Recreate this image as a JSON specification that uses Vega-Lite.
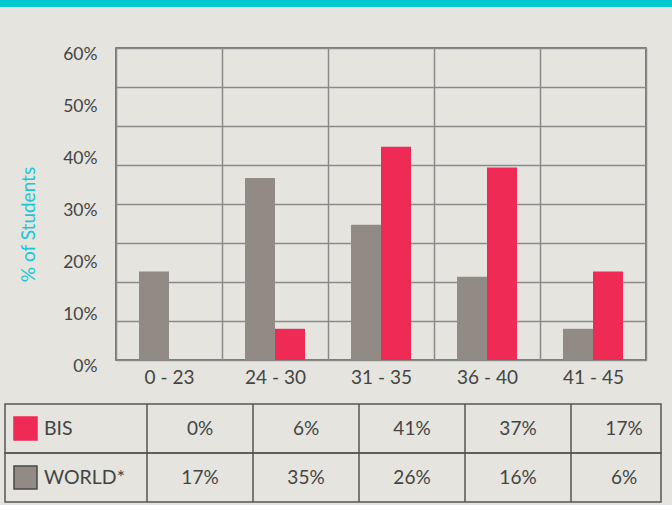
{
  "$schema": "https://vega.github.io/schema/vega-lite/v6.json",
  "width": 530,
  "height": 312,
  "autosize": {"type": "none"},
  "padding": {"left": 116, "top": 48, "right": 26, "bottom": 145},
  "background": "#e5e4df",
  "config": {
    "font": "Lato",
    "view": {"stroke": "#555555", "strokeWidth": 1.5},
    "axis": {"labelFont": "Lato", "titleFont": "Lato"}
  },
  "data": {
    "values": [
      {"group": "0 - 23", "series": "WORLD*", "value": 0.17},
      {"group": "0 - 23", "series": "BIS", "value": 0.0},
      {"group": "24 - 30", "series": "WORLD*", "value": 0.35},
      {"group": "24 - 30", "series": "BIS", "value": 0.06},
      {"group": "31 - 35", "series": "WORLD*", "value": 0.26},
      {"group": "31 - 35", "series": "BIS", "value": 0.41},
      {"group": "36 - 40", "series": "WORLD*", "value": 0.16},
      {"group": "36 - 40", "series": "BIS", "value": 0.37},
      {"group": "41 - 45", "series": "WORLD*", "value": 0.06},
      {"group": "41 - 45", "series": "BIS", "value": 0.17}
    ]
  },
  "resolve": {
    "scale": {"x": "independent", "y": "independent", "stroke": "independent"},
    "axis": {"x": "independent", "y": "independent"}
  },
  "layer": [
    {
      "transform": [{"filter": "datum.group == '0 - 23' && datum.series == 'BIS'"}],
      "mark": {"type": "rect", "fill": "#00c8d3"},
      "encoding": {
        "x": {"datum": 0, "type": "quantitative", "scale": {"domain": [0, 1], "range": [-116, 556], "nice": false, "zero": false}, "axis": null},
        "x2": {"datum": 1},
        "y": {"datum": 0, "type": "quantitative", "scale": {"domain": [0, 1], "range": [-48, -41], "nice": false, "zero": false}, "axis": null},
        "y2": {"datum": 1}
      }
    },
    {
      "mark": {"type": "point", "opacity": 0},
      "encoding": {
        "y": {
          "field": "value", "type": "quantitative",
          "scale": {"domain": [0, 0.6], "nice": false},
          "axis": {
            "orient": "right", "values": [0, 0.075, 0.15, 0.225, 0.3, 0.375, 0.45, 0.525, 0.6],
            "grid": true, "gridColor": "#8a8a8a", "gridWidth": 1.5, "gridOpacity": 1,
            "labels": false, "ticks": false, "domain": false, "title": null
          }
        }
      }
    },
    {
      "mark": {"type": "bar"},
      "encoding": {
        "x": {
          "field": "group", "type": "nominal", "sort": null,
          "scale": {"type": "band", "paddingInner": 0, "paddingOuter": 0},
          "axis": {
            "orient": "bottom", "title": null, "labelAngle": 0, "labelFontSize": 19, "labelColor": "#444444",
            "labelPadding": 8, "ticks": false, "domain": false, "grid": true, "tickBand": "extent",
            "gridColor": "#8a8a8a", "gridWidth": 1.5, "gridOpacity": 1
          }
        },
        "xOffset": {
          "field": "series", "type": "nominal",
          "scale": {"domain": ["WORLD*", "BIS"], "paddingInner": 0, "paddingOuter": 0.767}
        },
        "y": {
          "field": "value", "type": "quantitative",
          "scale": {"domain": [0, 0.6], "nice": false},
          "axis": {
            "orient": "left", "values": [0, 0.1, 0.2, 0.3, 0.4, 0.5, 0.6], "format": ".0%",
            "grid": false, "ticks": false, "domain": false,
            "labelFontSize": 17.5, "labelColor": "#444444", "labelPadding": 19, "labelOffset": 6,
            "title": "% of Students", "titleColor": "#1cc6d4", "titleFontSize": 19, "titleFontWeight": "normal",
            "titleX": -88, "titleY": 176, "titleAngle": -90, "titleBaseline": "middle", "titleAlign": "center"
          }
        },
        "color": {
          "field": "series", "type": "nominal",
          "scale": {"domain": ["BIS", "WORLD*"], "range": ["#ee2a55", "#918a85"]},
          "legend": null
        }
      }
    },
    {
      "mark": {"type": "rect", "fill": null, "fillOpacity": 0, "stroke": "#555555", "strokeWidth": 1.5},
      "transform": [{"filter": "datum.group == '0 - 23'"}],
      "encoding": {
        "x": {"datum": 0, "type": "quantitative", "scale": {"domain": [0, 1], "range": [-111, 545], "nice": false, "zero": false}, "axis": null},
        "x2": {"datum": 1},
        "y": {"field": "series", "type": "nominal", "scale": {"type": "band", "domain": ["BIS", "WORLD*"], "range": [356, 454], "paddingInner": 0, "paddingOuter": 0}, "axis": null}
      }
    },
    {
      "mark": {"type": "rule", "stroke": "#555555", "strokeWidth": 1.5},
      "transform": [{"filter": "datum.series == 'BIS'"}],
      "encoding": {
        "x": {"field": "group", "type": "nominal", "sort": null, "bandPosition": 0, "scale": {"type": "band", "range": [31, 561], "paddingInner": 0, "paddingOuter": 0}, "axis": null},
        "y": {"datum": 0, "type": "quantitative", "scale": {"domain": [0, 1], "range": [356, 454], "nice": false, "zero": false}, "axis": null},
        "y2": {"datum": 1}
      }
    },
    {
      "mark": {"type": "text", "fontSize": 19, "color": "#444444", "baseline": "middle", "align": "center"},
      "encoding": {
        "x": {"field": "group", "type": "nominal", "sort": null, "scale": {"type": "band", "range": [31, 561], "paddingInner": 0, "paddingOuter": 0}, "axis": null},
        "y": {"field": "series", "type": "nominal", "scale": {"type": "band", "domain": ["BIS", "WORLD*"], "range": [356, 454], "paddingInner": 0, "paddingOuter": 0}, "axis": null},
        "text": {"field": "value", "type": "quantitative", "format": ".0%"}
      }
    },
    {
      "mark": {"type": "point", "shape": "square", "size": 529, "filled": true, "opacity": 1, "strokeWidth": 1.5},
      "transform": [{"filter": "datum.group == '0 - 23'"}],
      "encoding": {
        "x": {"datum": 0, "type": "quantitative", "scale": {"domain": [0, 1], "range": [-90.5, 0], "nice": false, "zero": false}, "axis": null},
        "y": {"field": "series", "type": "nominal", "scale": {"type": "band", "domain": ["BIS", "WORLD*"], "range": [356, 454], "paddingInner": 0, "paddingOuter": 0}, "axis": null},
        "color": {"field": "series", "type": "nominal", "legend": null},
        "stroke": {"field": "series", "type": "nominal", "scale": {"domain": ["BIS", "WORLD*"], "range": ["#ee2a55", "#4a4a4a"]}, "legend": null}
      }
    },
    {
      "mark": {"type": "text", "fontSize": 19.5, "color": "#444444", "baseline": "middle", "align": "left"},
      "transform": [{"filter": "datum.group == '0 - 23'"}],
      "encoding": {
        "x": {"datum": 0, "type": "quantitative", "scale": {"domain": [0, 1], "range": [-72, 0], "nice": false, "zero": false}, "axis": null},
        "y": {"field": "series", "type": "nominal", "scale": {"type": "band", "domain": ["BIS", "WORLD*"], "range": [356, 454], "paddingInner": 0, "paddingOuter": 0}, "axis": null},
        "text": {"field": "series", "type": "nominal"}
      }
    }
  ]
}
